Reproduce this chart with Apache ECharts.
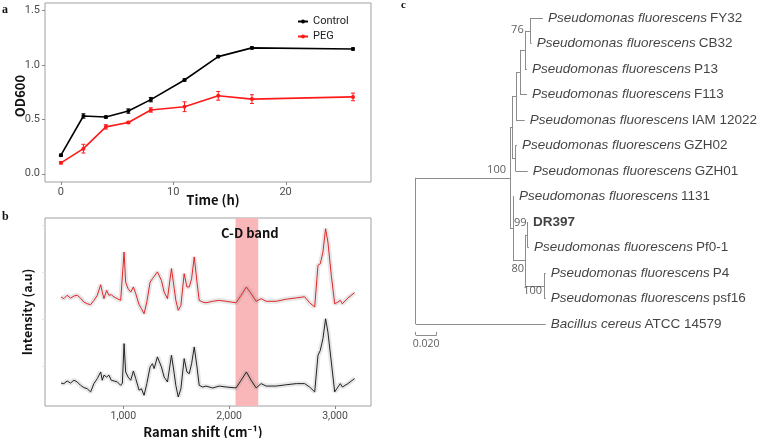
<!DOCTYPE html>
<html><head><meta charset="utf-8">
<script src="https://cdn.jsdelivr.net/npm/echarts@6/dist/echarts.min.js"></script>
<style>html,body{margin:0;padding:0;background:#fff}#c{width:760px;height:438px}</style>
</head><body><div id="c"></div>
<script>
// ---------- Panel a: growth curve ----------
const timeH     = [0, 2, 4, 6, 8, 11, 14, 17, 26];
const controlOD = [0.17, 0.53, 0.52, 0.575, 0.68, 0.86, 1.075, 1.155, 1.145];
const controlSE = [0.01, 0.02, 0.01, 0.02, 0.02, 0.01, 0.01, 0.01, 0.01];
const pegOD     = [0.10, 0.23, 0.43, 0.47, 0.585, 0.615, 0.715, 0.685, 0.705];
const pegSE     = [0.01, 0.04, 0.02, 0.01, 0.02, 0.045, 0.04, 0.04, 0.035];
const odTicks   = [0, 0.5, 1.0, 1.5];
const timeTicks = [0, 10, 20];

// ---------- Panel b: Raman spectra ----------
const ramanShift = [412,438,469,501,533,564,596,627,659,691,722,754,786,801,817,842,864,886,912,943,975,991,1007,1022,1045,1070,1095,1117,1149,1171,1196,1222,1253,1275,1291,1322,1338,1360,1386,1417,1433,1455,1481,1496,1519,1544,1575,1601,1623,1645,1670,1696,1717,1749,
  1781,1844,1907,1971,2065,2113,2163,2207,2255,2302,2350,2444,2539,2634,2713,2760,2808,2839,2861,2886,2911,2933,2965,2997,3028,3050,3069,3122,3185];
const pegIntensity = [58.0,57.1,58.9,57.4,58.5,58.9,57.4,55.3,54.4,53.9,56.2,58.9,64.5,60.6,57.1,61.5,58.9,59.2,58.0,57.1,56.2,57.1,81.9,65.9,62.4,60.6,63.3,59.8,53.9,51.8,49.1,55.3,65.9,67.7,66.8,71.3,72.2,66.8,60.6,57.1,56.2,73.1,62.4,56.2,50.9,53.5,70.4,63.3,63.3,67.7,79.3,65.9,56.2,55.3,
  54.9,55.7,56.2,55.7,54.9,58.9,63.3,59.8,55.7,57.1,55.7,55.7,56.8,57.5,58.1,54.9,52.7,74.8,75.7,81.9,94.3,87.2,69.5,54.4,55.3,56.2,54.4,57.5,60.3];
const controlIntensity = [12.2,11.9,13.3,12.2,13.7,12.8,11.0,9.8,9.2,7.5,11.9,14.6,18.1,13.7,16.4,15.4,16.4,13.7,13.3,12.8,11.0,12.2,33.2,18.1,15.4,13.7,18.6,14.6,8.4,9.2,5.7,11.9,20.8,22.5,19.9,26.1,27.0,20.8,15.4,12.8,12.8,27.0,17.2,11.0,4.8,9.2,25.2,18.1,17.2,22.5,31.4,20.8,11.0,10.1,
  10.6,9.6,10.6,10.1,9.6,13.7,18.1,13.7,9.6,11.9,10.6,10.6,11.3,11.9,11.9,10.1,7.5,26.9,29.6,35.8,46.4,39.3,23.4,7.5,10.1,11.9,10.1,11.9,14.6];
const ramanTicks = [1000, 2000, 3000];
const intensityTicks = [21.3, 46.3, 71.3, 96.3];
const cdBand = [2060, 2275];

// ---------- Panel c: phylogenetic tree ----------
const leafGenus  = ['Pseudomonas fluorescens','Pseudomonas fluorescens','Pseudomonas fluorescens','Pseudomonas fluorescens','Pseudomonas fluorescens','Pseudomonas fluorescens','Pseudomonas fluorescens','Pseudomonas fluorescens','','Pseudomonas fluorescens','Pseudomonas fluorescens','Pseudomonas fluorescens','Bacillus cereus'];
const leafStrain = ['FY32','CB32','P13','F113','IAM 12022','GZH02','GZH01','1131','DR397','Pf0-1','P4','psf16','ATCC 14579'];
const leafDepth  = [0.1212,0.1105,0.1060,0.1060,0.1038,0.0965,0.1067,0.0936,0.1069,0.1079,0.1238,0.1238,0.1238];
const nodeIds    = ['n76','nP','nP2','nQ','nGZH','nUp','nDP','nP4','n80','nLow','n100','root'];
const nodeDepth  = [0.1095,0.1041,0.0993,0.0955,0.0950,0.0917,0.1065,0.1222,0.1041,0.0927,0.0898,0];
const nodeChildren = [[0,1],['n76',2],['nP',3],['nP2',4],[5,6],['nQ','nGZH'],[8,9],[10,11],['nDP','nP4'],[7,'n80'],['nUp','nLow'],['n100',12]];
const bootNodes  = ['n76','n100','nDP','n80','nP4'];
const bootValues = ['76','100','99','80','100'];
const scaleBar   = 0.02;

// ---- tree layout (y = mean of outer children) ----
const pos = {};
function place(id){
  if (typeof id === 'number') return {x: leafDepth[id], y: id};
  if (pos[id]) return pos[id];
  const k = nodeIds.indexOf(id);
  const cs = nodeChildren[k].map(place);
  pos[id] = {x: nodeDepth[k], y: (cs[0].y + cs[cs.length-1].y)/2};
  return pos[id];
}
place('root');
const segs = [];
nodeIds.forEach((id,k)=>{
  const p = pos[id];
  const cs = nodeChildren[k].map(place);
  segs.push([[p.x, cs[0].y],[p.x, cs[cs.length-1].y]]);
  cs.forEach(c=>segs.push([[p.x,c.y],[c.x,c.y]]));
});
const sbY = 12.43;
segs.push([[0,sbY],[scaleBar,sbY]],[[0,sbY-0.12],[0,sbY]],[[scaleBar,sbY-0.12],[scaleBar,sbY]]);

const bootStyle = {
  n76:  {distance:7, offset:[0,-1]},
  n100: {distance:4, offset:[0,-8]},
  nDP:  {distance:1, offset:[0,-12]},
  n80:  {distance:1, offset:[0,9]},
  nP4:  {distance:2, offset:[0,5]}
};

const tickFont = 'Roboto';
const titleFont = '"Noto Sans CJK KR", "Noto Sans", sans-serif';
const grey = '#4d4d4d';

function errorBars(name, means, errs, color){
  return {
    type:'custom', name:name, xAxisIndex:0, yAxisIndex:0, z:4,
    data: timeH.map((t,i)=>[t, means[i]-errs[i], means[i]+errs[i]]),
    encode:{x:0, y:[1,2]},
    renderItem:function(params, api){
      const x = api.value(0);
      const a = api.coord([x, api.value(1)]), b = api.coord([x, api.value(2)]);
      const w = 2, st = {stroke:color, lineWidth:1};
      return {type:'group', children:[
        {type:'line', shape:{x1:a[0],y1:a[1],x2:b[0],y2:b[1]}, style:st},
        {type:'line', shape:{x1:a[0]-w,y1:a[1],x2:a[0]+w,y2:a[1]}, style:st},
        {type:'line', shape:{x1:b[0]-w,y1:b[1],x2:b[0]+w,y2:b[1]}, style:st}
      ]};
    }
  };
}
// axis tick marks drawn through the axis scale (outside the panel box)
function tickMarks(gi, dim, values, ref, color){
  return {
    type:'custom', xAxisIndex:gi, yAxisIndex:gi, silent:true, z:5,
    data: values.map(v => dim === 'x' ? [v, ref] : [ref, v]),
    renderItem:function(params, api){
      const cs = params.coordSys;
      const p = api.coord([api.value(0), api.value(1)]);
      const shape = dim === 'x'
        ? {x1:Math.round(p[0])+0.5, y1:cs.y+cs.height, x2:Math.round(p[0])+0.5, y2:cs.y+cs.height+3}
        : {x1:cs.x-3, y1:Math.round(p[1])+0.5, x2:cs.x, y2:Math.round(p[1])+0.5};
      return {type:'line', shape:shape, style:{stroke:color, lineWidth:1}};
    }
  };
}

const chart = echarts.init(document.getElementById('c'));
const option = {
  animation:false,
  backgroundColor:'#fff',
  textStyle:{fontFamily:tickFont},
  graphic:[
    {type:'text', left:2, top:4, style:{text:'a', font:'bold 12px "Liberation Serif"', fill:'#111'}},
    {type:'text', left:2, top:211, style:{text:'b', font:'bold 12px "Liberation Serif"', fill:'#111'}},
    {type:'text', left:401, top:0, style:{text:'c', font:'bold 11px "Liberation Serif"', fill:'#111'}},
    {type:'text', x:20, y:96, rotation:Math.PI/2, style:{text:'OD600', fontFamily:titleFont, fontWeight:'bold', fontSize:13, fill:'#111', align:'center', verticalAlign:'middle'}},
    {type:'text', x:213, y:200, style:{text:'Time (h)', fontFamily:titleFont, fontWeight:'bold', fontSize:13, fill:'#111', align:'center', verticalAlign:'middle'}},
    {type:'text', x:27, y:312, rotation:Math.PI/2, style:{text:'Intensity (a.u)', fontFamily:titleFont, fontWeight:'bold', fontSize:12.5, fill:'#111', align:'center', verticalAlign:'middle'}},
    {type:'text', x:203, y:432, style:{text:'Raman shift (cm\u207B\u00B9)', fontFamily:titleFont, fontWeight:'bold', fontSize:13, fill:'#111', align:'center', verticalAlign:'middle'}}
  ],
  legend:{
    data:['Control','PEG'], orient:'vertical', left:292, top:11, itemWidth:10, itemHeight:5, itemGap:4,
    textStyle:{fontFamily:tickFont, fontSize:11, color:'#222'}
  },
  grid:[
    {left:45, top:3, width:326, height:179, show:true, borderColor:'#a0a0a0', borderWidth:1},
    {left:45, top:218, width:326, height:188, show:true, borderColor:'#a0a0a0', borderWidth:1},
    {left:415.7, top:18, width:210, height:357}
  ],
  xAxis:[
    {gridIndex:0, type:'value', min:-1.42, max:27.6, splitLine:{show:false}, axisLine:{show:false, onZero:false},
     axisTick:{show:false},
     axisLabel:{customValues:timeTicks, color:grey, fontSize:11, margin:5, fontFamily:tickFont}},
    {gridIndex:1, type:'value', min:260, max:3340, splitLine:{show:false}, axisLine:{show:false, onZero:false},
     axisTick:{show:false},
     axisLabel:{customValues:ramanTicks, color:grey, fontSize:10.5, margin:5, fontFamily:tickFont,
       formatter:v=>v.toLocaleString('en-US')}},
    {gridIndex:2, type:'value', min:0, max:0.2, show:false}
  ],
  yAxis:[
    {gridIndex:0, type:'value', min:-0.076, max:1.567, splitLine:{show:false}, axisLine:{show:false, onZero:false},
     axisTick:{show:false},
     axisLabel:{customValues:odTicks, color:grey, fontSize:11, margin:5, fontFamily:tickFont, formatter:v=>v.toFixed(1)}},
    {gridIndex:1, type:'value', min:0, max:100, splitLine:{show:false}, axisLine:{show:false, onZero:false},
     axisTick:{show:false}, axisLabel:{show:false}},
    {gridIndex:2, type:'value', min:0, max:14, inverse:true, show:false}
  ],
  series:[
    {name:'Control', type:'line', xAxisIndex:0, yAxisIndex:0, z:3,
     data: timeH.map((t,i)=>[t, controlOD[i]]), color:'#000',
     lineStyle:{width:1.6, color:'#000'}, symbol:'circle', symbolSize:4, itemStyle:{color:'#000'}},
    {name:'PEG', type:'line', xAxisIndex:0, yAxisIndex:0, z:3,
     data: timeH.map((t,i)=>[t, pegOD[i]]), color:'#ff1a1a',
     lineStyle:{width:1.6, color:'#ff1a1a'}, symbol:'circle', symbolSize:4, itemStyle:{color:'#ff1a1a'}},
    errorBars('ControlErr', controlOD, controlSE, '#000'),
    errorBars('PEGErr', pegOD, pegSE, '#ff1a1a'),
    tickMarks(0, 'x', timeTicks, odTicks[1], '#888'),
    tickMarks(0, 'y', odTicks, timeTicks[1], '#888'),
    tickMarks(1, 'x', ramanTicks, intensityTicks[1], '#888'),
    tickMarks(1, 'y', intensityTicks, ramanTicks[1], '#e2e2e2'),

    // panel b
    {type:'line', xAxisIndex:1, yAxisIndex:1, data:[], z:1, silent:true,
     markArea:{silent:true, itemStyle:{color:'#f9b7b9'},
       label:{show:true, position:'insideTop', distance:9, offset:[3,0], color:'#111', fontWeight:'bold', fontSize:13, fontFamily:titleFont},
       data:[[{xAxis:cdBand[0], name:'C-D band'},{xAxis:cdBand[1]}]]}},
    {type:'line', xAxisIndex:1, yAxisIndex:1, z:2, silent:true, symbol:'none',
     data: ramanShift.map((x,i)=>[x, pegIntensity[i]]), lineStyle:{width:5, color:'rgba(120,120,120,0.18)'}},
    {type:'line', xAxisIndex:1, yAxisIndex:1, z:2, silent:true, symbol:'none',
     data: ramanShift.map((x,i)=>[x, controlIntensity[i]]), lineStyle:{width:5, color:'rgba(120,120,120,0.18)'}},
    {type:'line', xAxisIndex:1, yAxisIndex:1, z:3, silent:true, symbol:'none',
     data: ramanShift.map((x,i)=>[x, pegIntensity[i]]), lineStyle:{width:1, color:'#e0262a'}},
    {type:'line', xAxisIndex:1, yAxisIndex:1, z:3, silent:true, symbol:'none',
     data: ramanShift.map((x,i)=>[x, controlIntensity[i]]), lineStyle:{width:1, color:'#222'}},

    // panel c
    {type:'lines', coordinateSystem:'cartesian2d', xAxisIndex:2, yAxisIndex:2, silent:true,
     data: segs.map(s=>({coords:s})), lineStyle:{color:'#8c8c8c', width:1, opacity:1}},
    {type:'scatter', xAxisIndex:2, yAxisIndex:2, symbolSize:0, silent:true,
     data: leafStrain.map((s,i)=>({value:[leafDepth[i], i], genus:leafGenus[i], strain:s})),
     label:{show:true, position:'right', distance:5,
       formatter:p=> p.data.genus ? '{i|'+p.data.genus+'} {n|'+p.data.strain+'}' : '{b|'+p.data.strain+'}',
       rich:{
         i:{fontFamily:'Liberation Sans', fontStyle:'italic', fontSize:13.5, color:'#111'},
         n:{fontFamily:'Liberation Sans', fontSize:13.5, color:'#111'},
         b:{fontFamily:'Liberation Sans', fontWeight:'bold', fontSize:13.5, color:'#111'}
       }}},
    {type:'scatter', xAxisIndex:2, yAxisIndex:2, symbolSize:0, silent:true,
     data: bootNodes.map((id,k)=>({value:[pos[id].x, pos[id].y], txt:bootValues[k],
       label:{distance:bootStyle[id].distance, offset:bootStyle[id].offset}})),
     label:{show:true, position:'left', formatter:p=>p.data.txt, fontFamily:'Open Sans', fontSize:11, color:'#333'}},
    {type:'scatter', xAxisIndex:2, yAxisIndex:2, symbolSize:0, silent:true,
     data:[{value:[scaleBar/2, sbY]}],
     label:{show:true, position:'bottom', distance:4, formatter:()=>scaleBar.toFixed(3), fontFamily:'Open Sans', fontSize:10.5, color:'#333'}}
  ]
};
chart.setOption(option);
</script></body></html>
